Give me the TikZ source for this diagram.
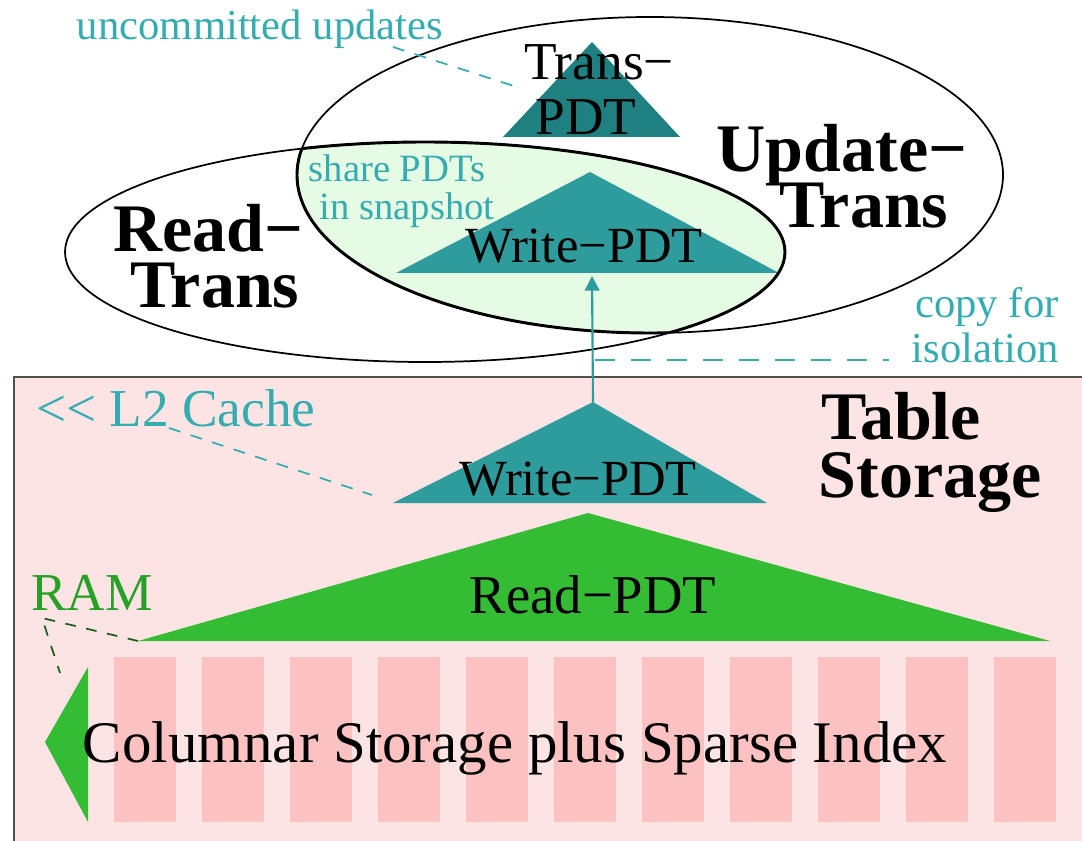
\documentclass[tikz,border=0pt]{standalone}
\usepackage{fontspec}
\setmainfont{Liberation Serif}
\usetikzlibrary{arrows.meta}

\definecolor{storagebg}{RGB}{253,228,228}
\definecolor{columnpink}{RGB}{252,194,194}
\definecolor{pdtgreen}{RGB}{52,188,52}
\definecolor{ramgreen}{RGB}{40,160,40}
\definecolor{snapgreen}{RGB}{230,251,228}
\definecolor{pdtteal}{RGB}{46,156,156}
\definecolor{transteal}{RGB}{30,128,128}
\definecolor{notecyan}{RGB}{52,172,176}
\definecolor{boxgray}{RGB}{80,80,80}

\tikzset{
  heading/.style={font=\fontsize{51}{43}\selectfont\bfseries, anchor=base, inner sep=0pt},
  headtop/.style={heading, text depth=0pt},
  headlow/.style={heading, text height=0.66em},
  pdtlabel/.style={font=\fontsize{#1}{#1}\selectfont, anchor=base, inner sep=0pt},
  note/.style={font=\fontsize{32}{30}\selectfont, text=notecyan, anchor=base, inner sep=0pt},
  bignote/.style={font=\fontsize{40}{40}\selectfont, anchor=base west, inner sep=0pt},
  notelink/.style={draw=notecyan, line width=1.3pt, dash pattern=on 9pt off 8pt},
  ramlink/.style={draw=ramgreen!60!black, line width=1.3pt, dash pattern=on 8pt off 8pt},
  trans/.style={draw=black, line width=1.3pt},
}

\begin{document}
\begin{tikzpicture}[x=0.75pt,y=-0.75pt]
\useasboundingbox (0,0) rectangle (1082,841);

% ---------- table storage ----------
\fill[storagebg] (14,377) rectangle (1100,860);
\draw[boxgray, line width=1.5pt] (1100,377) -- (14,377) -- (14,860);

% column bars
\foreach \i in {0,...,10}{
  \fill[columnpink] ({114+88*\i},657) rectangle ({176+88*\i},822);
}

% RAM arrow pointing out of the storage
\coordinate (ramT) at (88,667);
\coordinate (ramTip) at (45,742);
\coordinate (ramB) at (88,822);
\fill[pdtgreen] (ramT) -- (ramTip) -- (ramB) -- cycle;

% Read-PDT
\coordinate (rdL) at (138,641);
\coordinate (rdA) at (588,513);
\coordinate (rdR) at (1050,641);
\fill[pdtgreen] (rdL) -- (rdA) -- (rdR) -- cycle;
\node[pdtlabel=41] (rdtext) at (593,613) {Read−PDT};

% Write-PDT in storage
\coordinate (wsL) at (393,503);
\coordinate (wsA) at (593,402);
\coordinate (wsR) at (767,503);
\fill[pdtteal] (wsL) -- (wsA) -- (wsR) -- cycle;
\node[pdtlabel=38] (wstext) at (578,495) {Write−PDT};

\node[pdtlabel=44.2] (colstore) at (515,762) {Columnar Storage plus Sparse Index};

\node[headtop] (tab1) at (901,440) {Table};
\node[headlow] (tab2) at (930,498) {Storage};

% ---------- transactions ----------
\begin{scope}
  \clip (425,252) ellipse [x radius=360, y radius=110];
  \fill[snapgreen] (650,175) ellipse [x radius=353, y radius=158];
\end{scope}

% Write-PDT shared in the snapshot
\coordinate (wtL) at (396,273);
\coordinate (wtA) at (590,172);
\coordinate (wtR) at (779,273);
\fill[pdtteal] (wtL) -- (wtA) -- (wtR) -- cycle;
\node[pdtlabel=38] (wttext) at (584,263) {Write−PDT};

% Trans-PDT
\coordinate (tpL) at (503,137);
\coordinate (tpA) at (592,42);
\coordinate (tpR) at (680,137);
\fill[transteal] (tpL) -- (tpA) -- (tpR) -- cycle;
\node[pdtlabel=40] (tp1) at (599,80) {Trans−};
\node[pdtlabel=40] (tp2) at (586,135) {PDT};

% transaction ellipses
\draw[trans] (650,175) ellipse [x radius=353, y radius=158];
\draw[trans] (425,252) ellipse [x radius=360, y radius=110];
\begin{scope}
  \clip (650,175) ellipse [x radius=353, y radius=158];
  \draw[line width=2.2pt] (425,252) ellipse [x radius=360, y radius=110];
\end{scope}
\begin{scope}
  \clip (425,252) ellipse [x radius=360, y radius=110];
  \draw[line width=2.2pt] (650,175) ellipse [x radius=353, y radius=158];
\end{scope}

\node[headtop] (up1) at (842,172) {Update−};
\node[headlow] (up2) at (864,228) {Trans};
\node[headtop] (rd1) at (208,252) {Read−};
\node[headlow] (rd2) at (215,308) {Trans};

% ---------- notes ----------
\node[note] (unc) at (260,40) {uncommitted updates};
\node[note, font=\fontsize{29}{28}\selectfont] (share1) at (397,182) {share PDTs};
\node[note, font=\fontsize{29}{28}\selectfont] (share2) at (407,220) {in snapshot};
\node[note, anchor=base east] (copy1) at (1059,318) {copy for};
\node[note, anchor=base east] (copy2) at (1059,363) {isolation};
\node[bignote, text=notecyan] (l2) at (36,427) {{<}{<} L2 Cache};
\node[bignote, text=ramgreen] (ram) at (31,610) {RAM};

% ---------- connectors ----------
\draw[pdtteal, line width=1.6pt, -{Triangle[length=11pt, width=11pt]}] (wsA) -- (592,276);

\coordinate (uncEnd) at (393,47);
\coordinate (tpNear) at (520,88);
\path[notelink] (uncEnd) -- (tpNear);

\coordinate (l2End) at (169,428);
\coordinate (wsNear) at (372,495);
\path[notelink] (l2End) -- (wsNear);

\coordinate (isoStart) at (595,360);
\coordinate (isoEnd) at (889,360);
\path[notelink, dash pattern=on 15pt off 12pt] (isoStart) -- (isoEnd);

\coordinate (ramEnd) at (42,618);
\coordinate (arrowTop) at (60,673);
\path[ramlink] (rdL) -- (ramEnd) -- (arrowTop);

\end{tikzpicture}
\end{document}
